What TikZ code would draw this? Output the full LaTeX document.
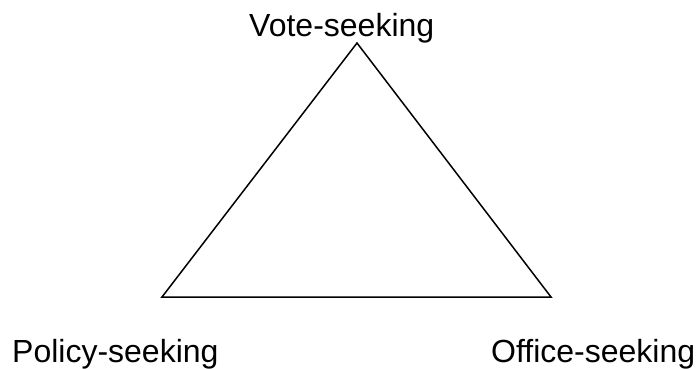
\documentclass[tikz,border=0pt]{standalone}
\usepackage{fontspec}
\setmainfont{Liberation Sans}
\begin{document}
\begin{tikzpicture}[x=1pt,y=-1pt,
  lbl/.style={inner sep=0pt,anchor=base west,font=\fontsize{32}{37}\selectfont},
  edge/.style={line width=1.5pt,line join=miter}]
\useasboundingbox (0,0) rectangle (697,369);
\coordinate (top) at (357,43);
\coordinate (bl) at (162,297);
\coordinate (br) at (551,297);
\draw[edge] (top) -- (bl) -- (br) -- cycle;
\node[lbl] (vote) at (249,37) {Vote-seeking};
\node[lbl] (policy) at (12,362) {Policy-seeking};
\node[lbl] (office) at (491,362) {Office-seeking};
\end{tikzpicture}
\end{document}
